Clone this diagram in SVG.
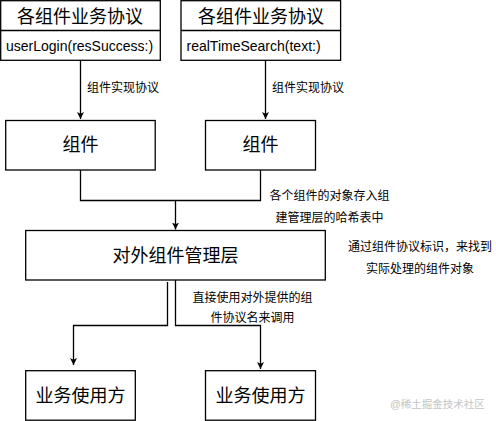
<svg xmlns="http://www.w3.org/2000/svg" width="496" height="421" viewBox="0 0 496 421">
<style>
.box{fill:#fff;stroke:#000;stroke-width:1.3}
.t{font-family:"Liberation Sans","Noto Sans CJK SC",sans-serif;fill:#000;dominant-baseline:central}
.big{font-size:18px;text-anchor:middle}
.code{font-size:14px}
.lbl{font-size:12px}
.mid{text-anchor:middle}
.edge{fill:none;stroke:#000;stroke-width:1.3}
.wm{font-family:"Liberation Sans","Noto Sans CJK SC",sans-serif;font-size:10.5px;fill:#c4c4c4;dominant-baseline:central}
</style>
<defs>
<marker id="arr" viewBox="0 0 10 10" refX="10" refY="5" markerWidth="7" markerHeight="7" markerUnits="userSpaceOnUse" orient="auto">
<path d="M0,0 L10,5 L0,10 L2.5,5 z" fill="#000"/>
</marker>
</defs>
<rect width="496" height="421" fill="#fff"/>
<g id="connectors">
<line class="edge" x1="80.5" y1="60" x2="80.5" y2="119" marker-end="url(#arr)"/>
<line class="edge" x1="265.5" y1="60" x2="265.5" y2="119" marker-end="url(#arr)"/>
<polyline class="edge" points="80.5,170 80.5,200.5 260.5,200.5 260.5,170"/>
<line class="edge" x1="175.5" y1="200.5" x2="175.5" y2="229.5" marker-end="url(#arr)"/>
<polyline class="edge" points="167.5,282 167.5,325.5 73.5,325.5 73.5,365" marker-end="url(#arr)"/>
<polyline class="edge" points="175.5,280 175.5,325.5 260.5,325.5 260.5,369" marker-end="url(#arr)"/>
<text class="t lbl" x="87" y="88">组件实现协议</text>
<text class="t lbl" x="272" y="88">组件实现协议</text>
<text class="t lbl mid" x="329.5" y="196">各个组件的对象存入组</text>
<text class="t lbl mid" x="329.5" y="218">建管理层的哈希表中</text>
<text class="t lbl mid" x="420" y="247">通过组件协议标识，来找到</text>
<text class="t lbl mid" x="420" y="269">实际处理的组件对象</text>
<text class="t lbl mid" x="252.5" y="298">直接使用对外提供的组</text>
<text class="t lbl mid" x="252.5" y="318">件协议名来调用</text>
</g>
<g id="protocol1">
<rect class="box" x="0.7" y="0.7" width="159.6" height="59.6"/>
<line class="edge" x1="0.7" y1="30.5" x2="160.3" y2="30.5"/>
<text class="t big" x="80" y="16.5">各组件业务协议</text>
<text class="t code" x="6" y="45.5">userLogin(resSuccess:)</text>
</g>
<g id="protocol2">
<rect class="box" x="181" y="0.7" width="159.6" height="59.6"/>
<line class="edge" x1="181" y1="30.5" x2="340.6" y2="30.5"/>
<text class="t big" x="261" y="16.5">各组件业务协议</text>
<text class="t code" x="186.5" y="45.5">realTimeSearch(text:)</text>
</g>
<g id="component1">
<rect class="box" x="5.7" y="120.5" width="149.5" height="49.5"/>
<text class="t big" x="80.5" y="145">组件</text>
</g>
<g id="component2">
<rect class="box" x="205.5" y="120.5" width="110" height="49.5"/>
<text class="t big" x="260.5" y="145">组件</text>
</g>
<g id="manager">
<rect class="box" x="25.7" y="230.5" width="299.6" height="49.5"/>
<text class="t big" x="175.5" y="255.5">对外组件管理层</text>
</g>
<g id="consumer1">
<rect class="box" x="25.7" y="370.7" width="109.6" height="49.5"/>
<text class="t big" x="80.5" y="395.5">业务使用方</text>
</g>
<g id="consumer2">
<rect class="box" x="205.5" y="370.7" width="110" height="49.5"/>
<text class="t big" x="260.5" y="395.5">业务使用方</text>
</g>
<text class="wm" x="390" y="404">@稀土掘金技术社区</text>
</svg>
